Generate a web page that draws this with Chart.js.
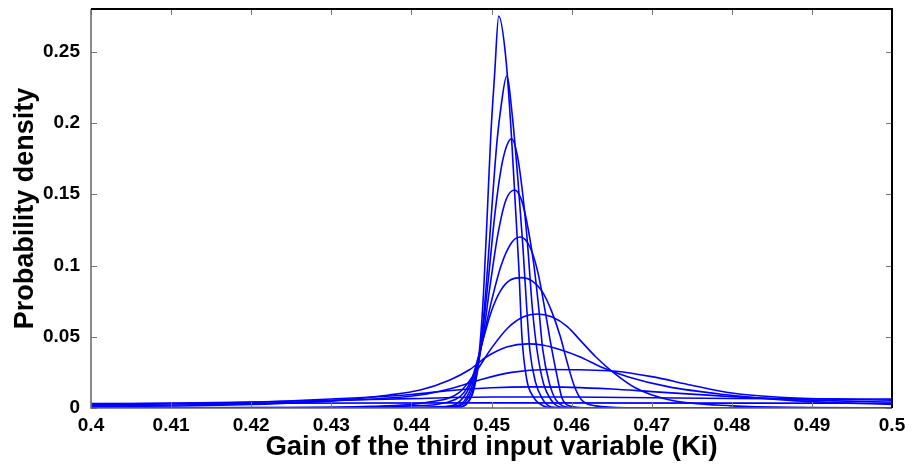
<!DOCTYPE html>
<html>
<head>
<meta charset="utf-8">
<script src="https://cdn.jsdelivr.net/npm/chart.js@4.4.1/dist/chart.umd.min.js"></script>
<style>
  html, body { margin: 0; padding: 0; background: #fff; }
</style>
</head>
<body>
<canvas id="chart" width="920" height="464"></canvas>
<script>
// tick values + labels
const xTicks = [0.4, 0.41, 0.42, 0.43, 0.44, 0.45, 0.46, 0.47, 0.48, 0.49, 0.5];
const xTickLabels = ["0.4", "0.41", "0.42", "0.43", "0.44", "0.45", "0.46", "0.47", "0.48", "0.49", "0.5"];
const yTicks = [0, 0.05, 0.1, 0.15, 0.2, 0.25];
const yTickLabels = ["0", "0.05", "0.1", "0.15", "0.2", "0.25"];

// density curves, [Ki, density] (narrowest first)
const curveA = [[0.400,0],[0.440,0],[0.4458,0.0005],[0.4469,0.003],[0.4477,0.012],[0.4484,0.035],[0.4490,0.08],[0.4495,0.14],[0.4499,0.19],[0.4504,0.235],[0.4509,0.275],[0.4518,0.245],[0.4525,0.19],[0.4530,0.14],[0.4534,0.10],[0.4538,0.05],[0.4544,0.02],[0.4552,0.008],[0.4560,0.003],[0.4570,0.0005],[0.460,0],[0.500,0]];
const curveB = [[0.400,0],[0.440,0],[0.4458,0.0005],[0.4469,0.003],[0.4478,0.013],[0.4486,0.04],[0.4494,0.09],[0.4501,0.145],[0.4507,0.188],[0.4512,0.212],[0.4519,0.233],[0.4526,0.205],[0.4533,0.16],[0.4539,0.115],[0.4544,0.07],[0.4548,0.04],[0.4555,0.018],[0.4563,0.007],[0.4570,0.002],[0.4580,0.0003],[0.465,0],[0.500,0]];
const curveC = [[0.400,0],[0.440,0.0001],[0.4455,0.001],[0.4467,0.004],[0.4477,0.015],[0.4487,0.045],[0.4496,0.09],[0.4504,0.135],[0.4512,0.168],[0.4519,0.184],[0.4525,0.189],[0.4532,0.178],[0.4539,0.15],[0.4545,0.115],[0.4551,0.07],[0.4557,0.04],[0.4565,0.017],[0.4574,0.006],[0.4582,0.0015],[0.4595,0.0002],[0.470,0],[0.500,0]];
const curveD = [[0.400,0],[0.440,0.0002],[0.4452,0.0012],[0.4466,0.005],[0.4477,0.018],[0.4488,0.045],[0.4498,0.085],[0.4508,0.122],[0.4518,0.146],[0.4529,0.153],[0.4538,0.145],[0.4546,0.125],[0.4553,0.10],[0.4559,0.07],[0.4564,0.041],[0.4572,0.018],[0.4580,0.006],[0.4589,0.0015],[0.4605,0.0002],[0.470,0],[0.500,0]];
const curveE = [[0.400,0],[0.435,0.0002],[0.4442,0.001],[0.4461,0.005],[0.4475,0.018],[0.4488,0.045],[0.4500,0.075],[0.4512,0.100],[0.4525,0.116],[0.4536,0.120],[0.4548,0.113],[0.4558,0.095],[0.4567,0.068],[0.4575,0.042],[0.4582,0.022],[0.4588,0.007],[0.4597,0.0015],[0.4615,0.0002],[0.475,0],[0.500,0]];
const curveF = [[0.400,0],[0.430,0.0003],[0.4400,0.0015],[0.4455,0.006],[0.4475,0.02],[0.4488,0.045],[0.4500,0.068],[0.4511,0.082],[0.4524,0.090],[0.4538,0.0915],[0.4551,0.089],[0.4563,0.082],[0.4575,0.068],[0.4586,0.050],[0.4594,0.033],[0.4603,0.016],[0.4612,0.006],[0.4630,0.0015],[0.4670,0.0002],[0.500,0]];
const curveG = [[0.400,0],[0.420,0.0003],[0.4350,0.0012],[0.4420,0.004],[0.4460,0.011],[0.4480,0.025],[0.4500,0.042],[0.4520,0.056],[0.4540,0.064],[0.4557,0.066],[0.4575,0.064],[0.4595,0.057],[0.4610,0.048],[0.4630,0.036],[0.4652,0.025],[0.4680,0.014],[0.4720,0.006],[0.4800,0.0015],[0.4900,0.0004],[0.500,0.0001]];
const curveH = [[0.400,0.0008],[0.420,0.0025],[0.430,0.005],[0.4370,0.009],[0.4411,0.0126],[0.4448,0.0197],[0.4473,0.027],[0.4494,0.036],[0.4520,0.043],[0.4545,0.045],[0.4565,0.044],[0.4585,0.041],[0.4610,0.036],[0.4636,0.029],[0.4670,0.022],[0.4720,0.015],[0.4790,0.0095],[0.4880,0.005],[0.500,0.0025]];
const curveI = [[0.400,0.0015],[0.420,0.003],[0.430,0.005],[0.4411,0.0091],[0.4452,0.014],[0.4485,0.0197],[0.4525,0.0250],[0.4570,0.027],[0.4610,0.0268],[0.4652,0.026],[0.4700,0.022],[0.4750,0.016],[0.4800,0.0105],[0.4860,0.0075],[0.4950,0.006],[0.500,0.0055]];
const curveJ = [[0.400,0.002],[0.420,0.004],[0.430,0.0063],[0.440,0.0095],[0.445,0.0123],[0.450,0.0142],[0.455,0.0148],[0.460,0.0145],[0.465,0.0133],[0.470,0.0115],[0.480,0.008],[0.490,0.0055],[0.500,0.0042]];
const curveK = [[0.400,0.0025],[0.420,0.0042],[0.440,0.0066],[0.450,0.0077],[0.460,0.0077],[0.470,0.0072],[0.480,0.0067],[0.490,0.0064],[0.500,0.0063]];
const curveL = [[0.400,0.0032],[0.450,0.0036],[0.500,0.0033]];

const curves = [curveA, curveB, curveC, curveD, curveE, curveF, curveG, curveH, curveI, curveJ, curveK, curveL];

const FONT = "'Liberation Sans', Arial, sans-serif";

// matlab style box with inward ticks on all four sides
const boxPlugin = {
  id: "box",
  afterDatasetsDraw(chart) {
    const { ctx, chartArea: a, scales } = chart;
    const len = 6;
    ctx.save();
    ctx.strokeStyle = "#777";
    ctx.lineWidth = 1;
    ctx.beginPath();
    xTicks.forEach(v => {
      const px = Math.round(scales.x.getPixelForValue(v)) + 0.5;
      ctx.moveTo(px, a.bottom); ctx.lineTo(px, a.bottom - len);
      ctx.moveTo(px, a.top); ctx.lineTo(px, a.top + len);
    });
    yTicks.forEach(v => {
      const py = Math.round(scales.y.getPixelForValue(v)) + 0.5;
      ctx.moveTo(a.left, py); ctx.lineTo(a.left + len, py);
      ctx.moveTo(a.right, py); ctx.lineTo(a.right - len, py);
    });
    ctx.stroke();
    // left + bottom edges greyish, top + right black (as in the scan)
    ctx.lineWidth = 1.5;
    ctx.strokeStyle = "#666";
    ctx.beginPath();
    ctx.moveTo(a.left, a.top); ctx.lineTo(a.left, a.bottom); ctx.lineTo(a.right, a.bottom);
    ctx.stroke();
    ctx.lineWidth = 2;
    ctx.strokeStyle = "#000";
    ctx.beginPath();
    ctx.moveTo(a.left, a.top); ctx.lineTo(a.right, a.top); ctx.lineTo(a.right, a.bottom);
    ctx.stroke();
    ctx.restore();
  }
};

const zeroPad = s => { s.paddingTop = 0; s.paddingBottom = 0; s.paddingLeft = 0; s.paddingRight = 0; };

new Chart(document.getElementById("chart"), {
  type: "scatter",
  data: {
    datasets: curves.map(c => ({
      data: c.map(p => ({ x: p[0], y: p[1] })),
      showLine: true,
      borderColor: "#0000ff",
      borderWidth: 1.6,
      pointRadius: 0,
      cubicInterpolationMode: "monotone"
    }))
  },
  options: {
    responsive: false,
    animation: false,
    layout: { padding: { left: 0, right: 28, top: 9, bottom: 0 } },
    plugins: { legend: { display: false }, tooltip: { enabled: false } },
    scales: {
      x: {
        type: "linear",
        min: 0.4,
        max: 0.5,
        afterBuildTicks: s => { s.ticks = xTicks.map(v => ({ value: v })); },
        afterFit: s => { s.height = 56; zeroPad(s); },
        grid: { display: false, drawTicks: false },
        border: { display: false },
        ticks: {
          padding: 6,
          maxRotation: 0,
          autoSkip: false,
          color: "#000",
          font: { family: FONT, size: 19, weight: "bold" },
          callback: (v, i) => xTickLabels[i]
        },
        title: {
          display: true,
          text: "Gain of the third input variable (Ki)",
          color: "#000",
          font: { family: FONT, size: 27.5, weight: "bold" },
          padding: { top: 0, bottom: 0 }
        }
      },
      y: {
        min: 0,
        max: 0.28,
        afterBuildTicks: s => { s.ticks = yTicks.map(v => ({ value: v })); },
        afterFit: s => { s.width = 91; zeroPad(s); },
        grid: { display: false, drawTicks: false },
        border: { display: false },
        ticks: {
          padding: 11,
          color: "#000",
          font: { family: FONT, size: 19, weight: "bold" },
          callback: (v, i) => yTickLabels[i]
        },
        title: {
          display: true,
          text: "Probability density",
          color: "#000",
          font: { family: FONT, size: 27, weight: "bold" },
          padding: { top: 9, bottom: 0 }
        }
      }
    }
  },
  plugins: [boxPlugin]
});
</script>
</body>
</html>
